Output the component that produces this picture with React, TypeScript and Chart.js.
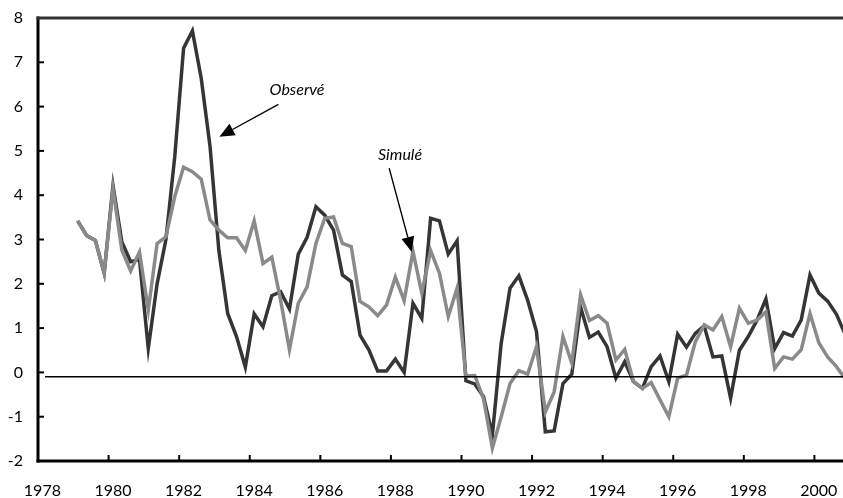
import React, { useEffect, useRef } from "react";
import { Chart, registerables } from "chart.js";

Chart.register(...registerables);

// Quarterly data, first quarter = 1979 Q1, last = 2000 Q4
const FIRST_YEAR = 1979;

const observe = [
  3.42, 3.09, 2.98, 2.24,
  4.22, 2.95, 2.5, 2.55,
  0.54, 2.0, 3.0, 4.87,
  7.32, 7.71, 6.64, 5.1,
  2.75, 1.33, 0.81, 0.12,
  1.32, 1.03, 1.73, 1.82,
  1.43, 2.67, 3.05, 3.74,
  3.55, 3.21, 2.2, 2.05,
  0.84, 0.51, 0.03, 0.03,
  0.3, 0.0, 1.56, 1.22,
  3.48, 3.42, 2.67, 2.97,
  -0.19, -0.26, -0.55, -1.41,
  0.66, 1.9, 2.18, 1.63,
  0.92, -1.34, -1.32, -0.25,
  -0.04, 1.47, 0.79, 0.91,
  0.58, -0.13, 0.24, -0.21,
  -0.36, 0.13, 0.37, -0.21,
  0.86, 0.57, 0.88, 1.05,
  0.35, 0.37, -0.58, 0.5,
  0.81, 1.18, 1.66, 0.54,
  0.9, 0.82, 1.18, 2.2,
  1.79, 1.61, 1.31, 0.85,
];

const simule = [
  3.42, 3.09, 2.98, 2.24,
  4.15, 2.76, 2.29, 2.72,
  1.41, 2.91, 3.06, 3.97,
  4.63, 4.53, 4.36, 3.44,
  3.21, 3.04, 3.04, 2.75,
  3.42, 2.46, 2.6, 1.63,
  0.51, 1.56, 1.93, 2.91,
  3.48, 3.51, 2.91, 2.84,
  1.6, 1.48, 1.28, 1.52,
  2.15, 1.62, 2.73, 1.79,
  2.75, 2.24, 1.26, 1.9,
  -0.08, -0.07, -0.6, -1.71,
  -1.0, -0.25, 0.04, -0.04,
  0.58, -0.89, -0.44, 0.81,
  0.21, 1.75, 1.17, 1.28,
  1.11, 0.28, 0.52, -0.21,
  -0.36, -0.23, -0.62, -1.0,
  -0.13, -0.06, 0.69, 1.07,
  0.96, 1.26, 0.58, 1.45,
  1.11, 1.18, 1.37, 0.09,
  0.35, 0.3, 0.51, 1.33,
  0.67, 0.35, 0.13, -0.15,
];

const xTickYears = [1978, 1980, 1982, 1984, 1986, 1988, 1990, 1992, 1994, 1996, 1998, 2000];
const yTickValues = [-2, -1, 0, 1, 2, 3, 4, 5, 6, 7, 8];
const X_MIN = 1978;
const X_MAX = 2000.81;
const Y_MIN = -2;
const Y_MAX = 8;

const BASELINE_VALUE = -0.1;
const BASELINE_FROM = 1978.2;
const BASELINE_TO = 2001;

const annotations = [
  { text: "Observé", textX: 1985.34, textY: 6.37, fromX: 1984.81, fromY: 6.05, toX: 1983.14, toY: 5.32 },
  { text: "Simulé", textX: 1988.26, textY: 4.91, fromX: 1987.95, fromY: 4.61, toX: 1988.59, toY: 2.72 },
];

const FONT = "Lato, 'Open Sans', sans-serif";

function toPoints(values: number[]) {
  return values.map((v, i) => ({ x: FIRST_YEAR + i / 4 + 0.125, y: v }));
}

const framePlugin = {
  id: "frame",
  afterDraw(chart: any) {
    const { ctx, chartArea: a, scales } = chart;
    const x = scales.x;
    const y = scales.y;
    const line = (x1: number, y1: number, x2: number, y2: number) => {
      ctx.beginPath();
      ctx.moveTo(x1, y1);
      ctx.lineTo(x2, y2);
      ctx.stroke();
    };
    ctx.save();
    // inward tick marks
    ctx.strokeStyle = "#000";
    ctx.lineWidth = 2;
    yTickValues.forEach((v) => {
      const py = y.getPixelForValue(v);
      line(a.left, py, a.left + 6, py);
    });
    xTickYears.forEach((v) => {
      const px = x.getPixelForValue(v);
      line(px, a.bottom, px, a.bottom - 6);
    });
    // axes
    ctx.lineWidth = 3;
    line(a.left, a.top - 1.5, a.left, a.bottom + 1.5);
    line(a.left - 1.5, a.bottom, a.right, a.bottom);
    ctx.strokeStyle = "#333";
    line(a.left - 1.5, a.top, a.right, a.top);

    // annotations
    annotations.forEach((an) => {
      const tx = x.getPixelForValue(an.textX);
      const ty = y.getPixelForValue(an.textY);
      ctx.fillStyle = "#000";
      ctx.font = "italic 16px " + FONT;
      ctx.textAlign = "center";
      ctx.textBaseline = "middle";
      ctx.fillText(an.text, tx, ty);

      const fx = x.getPixelForValue(an.fromX);
      const fy = y.getPixelForValue(an.fromY);
      const ex = x.getPixelForValue(an.toX);
      const ey = y.getPixelForValue(an.toY);
      const ang = Math.atan2(ey - fy, ex - fx);
      const headLen = 15;
      const headHalf = 6.5;
      const bx = ex - headLen * Math.cos(ang);
      const by = ey - headLen * Math.sin(ang);
      ctx.strokeStyle = "#000";
      ctx.lineWidth = 1.4;
      line(fx, fy, bx, by);
      ctx.beginPath();
      ctx.moveTo(ex, ey);
      ctx.lineTo(bx + headHalf * Math.sin(ang), by - headHalf * Math.cos(ang));
      ctx.lineTo(bx - headHalf * Math.sin(ang), by + headHalf * Math.cos(ang));
      ctx.closePath();
      ctx.fill();
    });
    ctx.restore();
  },
};

export default function App() {
  const canvasRef = useRef<HTMLCanvasElement | null>(null);

  useEffect(() => {
    document.body.style.margin = "0";
    const canvas = canvasRef.current;
    if (!canvas) return;
    const chart = new Chart(canvas, {
      type: "line",
      data: {
        datasets: [
          {
            label: "Baseline",
            data: [
              { x: BASELINE_FROM, y: BASELINE_VALUE },
              { x: BASELINE_TO, y: BASELINE_VALUE },
            ],
            borderColor: "#000",
            borderWidth: 1.5,
            pointRadius: 0,
          },
          {
            label: "Simulé",
            data: toPoints(simule),
            borderColor: "#8a8a8a",
            borderWidth: 3.5,
            pointRadius: 0,
            tension: 0,
          },
          {
            label: "Observé",
            data: toPoints(observe),
            borderColor: "#353535",
            borderWidth: 3.5,
            pointRadius: 0,
            tension: 0,
          },
        ],
      },
      options: {
        animation: false,
        responsive: false,
        devicePixelRatio: 1,
        layout: { padding: { top: 18, left: 0, right: 0, bottom: 0 } },
        plugins: {
          legend: { display: false },
          tooltip: { enabled: false },
        },
        scales: {
          x: {
            type: "linear",
            min: X_MIN,
            max: X_MAX,
            grid: { display: false, drawTicks: false },
            border: { display: false },
            afterBuildTicks: (scale: any) => {
              scale.ticks = xTickYears.map((v) => ({ value: v }));
            },
            afterFit: (scale: any) => {
              scale.height = 37;
              scale.paddingLeft = 0;
              scale.paddingRight = 0;
            },
            ticks: {
              padding: 20,
              labelOffset: 4.4,
              maxRotation: 0,
              autoSkip: false,
              color: "#000",
              font: { family: FONT, size: 16 },
              callback: (v: any) => String(v),
            },
          },
          y: {
            type: "linear",
            min: Y_MIN,
            max: Y_MAX,
            grid: { display: false, drawTicks: false },
            border: { display: false },
            afterBuildTicks: (scale: any) => {
              scale.ticks = yTickValues.map((v) => ({ value: v }));
            },
            afterFit: (scale: any) => {
              scale.width = 38;
              scale.paddingTop = 0;
              scale.paddingBottom = 0;
            },
            ticks: {
              padding: 15,
              color: "#000",
              font: { family: FONT, size: 16 },
              callback: (v: any) => String(v),
            },
          },
        },
      },
      plugins: [framePlugin],
    });
    return () => chart.destroy();
  }, []);

  return (
    <div style={{ position: "fixed", left: 0, top: 0, width: 843, height: 498, background: "#fff" }}>
      <canvas ref={canvasRef} width={843} height={498} style={{ width: 843, height: 498, display: "block" }} />
    </div>
  );
}
